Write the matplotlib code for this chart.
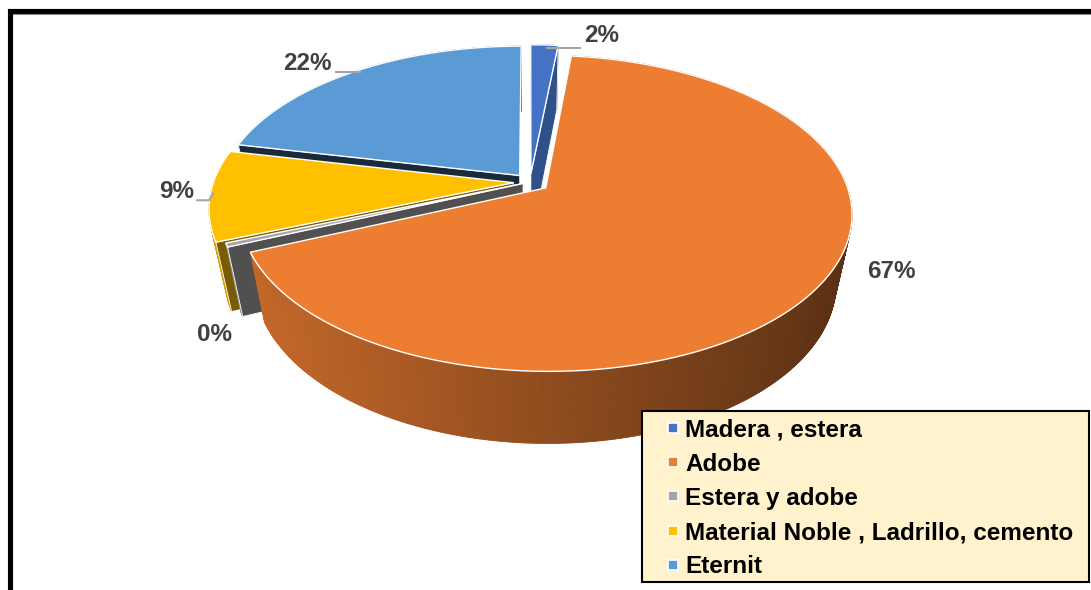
import numpy as np
import matplotlib.pyplot as plt
from matplotlib.patches import Polygon, Rectangle
from matplotlib.collections import PolyCollection
from matplotlib.colors import to_rgb

plt.rcParams['font.family'] = ['Liberation Sans', 'DejaVu Sans']

categories = ['Madera , estera', 'Adobe', 'Estera y adobe',
              'Material Noble , Ladrillo, cemento', 'Eternit']
shares = [1.7, 66.9, 0.4, 9.4, 21.6]
colors = ['#4472C4', '#ED7D31', '#A5A5A5', '#FFC000', '#5B9BD5']

# slice explosion (fraction of radius)
explode = [0.055, 0.065, 0.025, 0.055, 0.055]

# label placement: offset of the text from the slice rim (px), leader style
label_offsets = [(57, -9), (76, -18), (-12, 89), (-34, -4), (-47, -8)]
leaders = ['right', None, None, 'left_down', 'left']

# 3d pie geometry in pixels
cx, cy = 530, 182
rx, ry = 300, 152
depth = 68
persp = 0.16
taper = 0.05      # bottom face drawn slightly smaller than the top


def project(u, v, h=0.0):
    f = 1.0 / (1.0 - persp * v)
    s = 1.0 - taper * h
    return cx + rx * u * f * s, cy + (ry * v * s + depth * h) * f


def side_shade(x):
    t = np.clip((x - 245) / (855 - 245), 0, 1)
    return 0.83 - 0.45 * t


fig = plt.figure(figsize=(10.91, 5.90), dpi=100)
ax = fig.add_axes([0, 0, 1, 1])
ax.set_xlim(0, 1091)
ax.set_ylim(590, 0)
ax.axis('off')

bounds = np.concatenate([[0], np.cumsum(shares)]) / np.sum(shares) * 360
mids = (bounds[:-1] + bounds[1:]) / 2
order = np.argsort(-np.cos(np.radians(mids)))  # back slices first

anchors = {}
for i in order:
    t0, t1 = bounds[i], bounds[i + 1]
    m = np.radians(mids[i])
    ou, ov = explode[i] * np.sin(m), -explode[i] * np.cos(m)
    base = np.array(to_rgb(colors[i]))
    n = max(4, int((t1 - t0) * 2) + 2)
    arc = np.radians(np.linspace(t0, t1, n))
    us = ou + np.sin(arc)
    vs = ov - np.cos(arc)

    # outer curved wall, painted back to front
    quads, qcols, qv = [], [], []
    for j in range(n - 1):
        a = project(us[j], vs[j])
        b = project(us[j + 1], vs[j + 1])
        c = project(us[j + 1], vs[j + 1], 1)
        d = project(us[j], vs[j], 1)
        quads.append([a, b, c, d])
        qcols.append(np.clip(base * side_shade((a[0] + b[0]) / 2), 0, 1))
        qv.append((vs[j] + vs[j + 1]) / 2)
    idx = np.argsort(qv)
    ax.add_collection(PolyCollection([quads[k] for k in idx],
                                     facecolors=[qcols[k] for k in idx],
                                     edgecolors=[qcols[k] for k in idx],
                                     linewidths=0.6))

    # radial walls facing the viewer
    for ang, nrm in ((t0, t0 - 90), (t1, t1 + 90)):
        nr = np.radians(nrm)
        if -np.cos(nr) <= 0.02:
            continue
        ar = np.radians(ang)
        ru, rv = ou + np.sin(ar), ov - np.cos(ar)
        wall = [project(ou, ov), project(ru, rv), project(ru, rv, 1), project(ou, ov, 1)]
        shade = 0.35 + 0.35 * np.sin(nr)
        ax.add_patch(Polygon(wall, closed=True, facecolor=np.clip(base * shade, 0, 1),
                             edgecolor='white', linewidth=0.6))

    # top face
    top = [project(ou, ov)] + [project(u, v) for u, v in zip(us, vs)]
    ax.add_patch(Polygon(top, closed=True, facecolor=colors[i],
                         edgecolor='white', linewidth=1.0))
    anchors[i] = project(ou + np.sin(m), ov - np.cos(m))

# percentage labels with leader lines
for i, s in enumerate(shares):
    x0, y0 = anchors[i]
    dx, dy = label_offsets[i]
    ax.text(x0 + dx, y0 + dy, f'{round(s)}%', ha='center', va='center',
            fontsize=17.5, fontweight='bold', color='#404040')
    style = leaders[i]
    if style == 'right':
        ax.plot([x0 + 3, x0 + 36], [y0 + 3, y0 + 3], color='#A5A5A5', lw=1.5)
    elif style == 'left':
        ax.plot([x0 + 6, x0 - 18], [y0, y0], color='#A5A5A5', lw=1.5)
    elif style == 'left_down':
        ax.plot([x0 + 3, x0 - 1, x0 - 13], [y0 - 2, y0 + 5, y0 + 5],
                color='#A5A5A5', lw=1.5)

# legend box
ax.add_patch(Rectangle((642, 411), 447, 171, facecolor='#FFF2CC',
                       edgecolor='black', linewidth=1.5, zorder=5))
for k, (name, col) in enumerate(zip(categories, colors)):
    yk = 428 + k * 34.2
    ax.add_patch(Rectangle((668, yk - 5), 10, 10, facecolor=col,
                           edgecolor='white', linewidth=1.2, zorder=6))
    ax.text(685, yk + 8.5, name, ha='left', va='baseline', fontsize=17.5,
            fontweight='bold', color='black', zorder=6)

# outer frame
ax.plot([9.5, 9.5, 1095], [600, 10.5, 10.5], color='black', lw=3.7,
        solid_joinstyle='miter', zorder=7)
ax.plot([13, 1095], [14, 14], color='#8C8C8C', lw=0.8, zorder=7)

fig.savefig('out.png', dpi=100)
